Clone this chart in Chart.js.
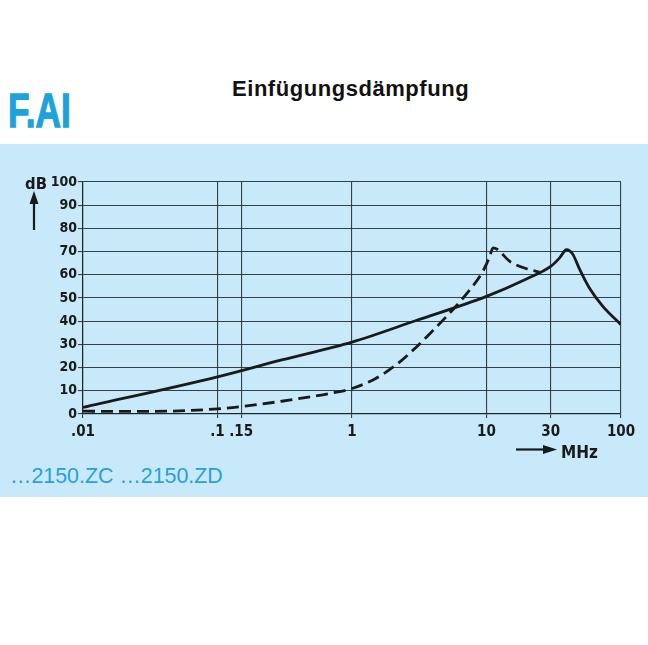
<!DOCTYPE html>
<html lang="de">
<head>
<meta charset="UTF-8">
<title>Einfügungsdämpfung</title>
<script src="https://cdn.jsdelivr.net/npm/chart.js"></script>
<style>
  html, body { margin: 0; padding: 0; background: #fff; }
  body { width: 648px; height: 645px; position: relative; overflow: hidden; }
  .panel { position: absolute; left: 0; top: 144px; width: 648px; height: 353px; background: #c8e9f9; }
  .txt { position: absolute; white-space: nowrap; line-height: 1; }
  #title { left: 232px; top: 76px; font: bold 22px "Liberation Sans", Arial, sans-serif; letter-spacing: 0.55px; color: #111; }
  #brand { left: 8px; top: 82px; font: bold 49px "Liberation Sans", Arial, sans-serif; color: #1ca2dc; transform: scaleX(0.72); transform-origin: 0 0; -webkit-text-stroke: 1.3px #1ca2dc; }
  #types { left: 10px; top: 464px; font: 21.4px "Liberation Sans", Arial, sans-serif; color: #27a1d7; }
  #dbLabel { left: 25px; top: 174px; font: bold 16.5px "DejaVu Sans Condensed", sans-serif; color: #1a1a1a; }
  #mhzLabel { left: 561px; top: 442px; font: bold 17px "DejaVu Sans Condensed", sans-serif; color: #1a1a1a; }
  canvas { position: absolute; left: 0; top: 0; }
</style>
</head>
<body>
<div class="panel"></div>
<div class="txt" id="title">Einfügungsdämpfung</div>
<div class="txt" id="brand">F.AI</div>
<div class="txt" id="types">…2150.ZC …2150.ZD</div>
<canvas id="chart" width="648" height="645"></canvas>
<div class="txt" id="dbLabel">dB</div>
<div class="txt" id="mhzLabel">MHz</div>

<script>
  // frequency axis (MHz) and its printed labels
  const xTickValues = [0.01, 0.1, 0.15, 1, 10, 30, 100];
  const xTickLabels = ['.01', '.1', '.15', '1', '10', '30', '100'];
  const yTickValues = [0, 10, 20, 30, 40, 50, 60, 70, 80, 90, 100];

  // solid curve
  const solidFreq = [0.01, 0.1, 0.3, 1, 3, 10, 20, 30, 35, 39.3, 41.5, 44, 49.4, 58.2, 73.3, 100];
  const solidDb   = [2.8, 16, 23.3, 31, 40.3, 50.7, 58.3, 63.6, 67.3, 70.8, 70.3, 68.7, 62.2, 54.3, 46.4, 38.5];

  // dashed curve
  const dashedFreq = [0.01, 0.03, 0.1, 0.15, 0.3, 0.5, 0.75, 1, 1.5, 2.14, 3, 4, 5, 6.7, 9.4, 10.5, 11.2, 12, 14.9, 20.9, 24.8];
  const dashedDb   = [1.2, 1.1, 2.2, 3.2, 5.5, 7.5, 9.3, 11, 15.3, 21.3, 28.8, 36, 41.8, 50, 61.5, 67.5, 71.6, 71, 65.8, 62.2, 61.2];

  const toPoints = (xs, ys) => xs.map((x, i) => ({ x: x, y: ys[i] }));

  // axis arrows next to "dB" and "MHz"
  const arrowPlugin = {
    id: 'arrows',
    afterDraw(chart) {
      const ctx = chart.ctx;
      ctx.save();
      ctx.fillStyle = '#1a1a1a';
      ctx.strokeStyle = '#1a1a1a';
      ctx.lineWidth = 2.2;
      // up arrow
      ctx.beginPath();
      ctx.moveTo(34, 230);
      ctx.lineTo(34, 200);
      ctx.stroke();
      ctx.beginPath();
      ctx.moveTo(34, 191);
      ctx.lineTo(29.5, 204);
      ctx.lineTo(38.5, 204);
      ctx.closePath();
      ctx.fill();
      // right arrow
      ctx.beginPath();
      ctx.moveTo(516, 449.5);
      ctx.lineTo(546, 449.5);
      ctx.stroke();
      ctx.beginPath();
      ctx.moveTo(557, 449.5);
      ctx.lineTo(543, 445);
      ctx.lineTo(543, 454);
      ctx.closePath();
      ctx.fill();
      ctx.restore();
    }
  };

  const tickFont = { family: '"DejaVu Sans Condensed", sans-serif', weight: 'bold' };

  const ctx = document.getElementById('chart').getContext('2d');
  new Chart(ctx, {
    type: 'line',
    data: {
      datasets: [
        {
          label: 'solid',
          data: toPoints(solidFreq, solidDb),
          borderColor: '#1a1a1a',
          borderWidth: 2.8,
          pointRadius: 0,
          fill: false,
          cubicInterpolationMode: 'monotone'
        },
        {
          label: 'dashed',
          data: toPoints(dashedFreq, dashedDb),
          borderColor: '#1a1a1a',
          borderWidth: 2.8,
          borderDash: [12, 6],
          pointRadius: 0,
          fill: false,
          cubicInterpolationMode: 'monotone'
        }
      ]
    },
    options: {
      responsive: false,
      animation: false,
      layout: { padding: { left: 0, top: 182, right: 27, bottom: 191 } },
      plugins: { legend: { display: false }, tooltip: { enabled: false } },
      scales: {
        x: {
          type: 'logarithmic',
          min: 0.01,
          max: 100,
          afterBuildTicks: (scale) => { scale.ticks = xTickValues.map(v => ({ value: v })); },
          afterFit: (scale) => { scale.height = 40; },
          ticks: {
            autoSkip: false,
            maxRotation: 0,
            padding: 5,
            color: '#1a1a1a',
            font: Object.assign({ size: 15 }, tickFont),
            callback: (value, index) => xTickLabels[index]
          },
          grid: { color: 'rgba(25,35,40,0.85)', lineWidth: 1.1, tickLength: 4 },
          border: { color: 'rgba(25,35,40,0.9)', width: 1.2 }
        },
        y: {
          type: 'linear',
          min: 0,
          max: 100,
          afterBuildTicks: (scale) => { scale.ticks = yTickValues.map(v => ({ value: v })); },
          afterFit: (scale) => { scale.width = 83; },
          ticks: {
            padding: 1,
            color: '#1a1a1a',
            font: Object.assign({ size: 14 }, tickFont)
          },
          grid: { color: 'rgba(25,35,40,0.85)', lineWidth: 1.1, tickLength: 5 },
          border: { color: 'rgba(25,35,40,0.9)', width: 1.2 }
        }
      }
    },
    plugins: [arrowPlugin]
  });
</script>
</body>
</html>
